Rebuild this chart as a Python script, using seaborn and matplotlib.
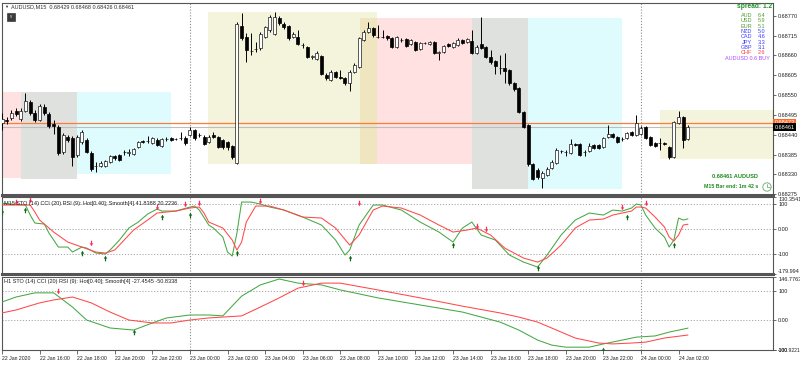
import numpy as np
import pandas as pd
import matplotlib
matplotlib.use("Agg")
import matplotlib.pyplot as plt
import matplotlib.transforms as mtransforms
from matplotlib.path import Path
from matplotlib.lines import Line2D
from matplotlib.patches import Rectangle, Circle
import seaborn as sns

sns.set_theme(style="white")
plt.rcParams["font.family"] = ["Liberation Sans", "DejaVu Sans"]

# ---------------- data ----------------
POINT = 1e-5  # prices below are given in points (0.00001)

bar_open = [68473, 68481, 68486, 68506, 68484, 68506, 68531, 68500, 68481, 68517,
            68498, 68470, 68461, 68392, 68434, 68431, 68384, 68420, 68425, 68389,
            68353, 68353, 68353, 68364, 68381, 68384, 68392, 68389, 68387, 68406,
            68423, 68423, 68417, 68425, 68409, 68428, 68431, 68428, 68431, 68431,
            68439, 68453, 68439, 68434, 68420, 68439, 68434, 68425, 68420, 68409,
            68362, 68741, 68711, 68672, 68678, 68680, 68711, 68730, 68719, 68764,
            68747, 68741, 68711, 68711, 68689, 68683, 68656, 68650, 68658, 68606,
            68592, 68614, 68600, 68597, 68583, 68614, 68628, 68703, 68725, 68736,
            68711, 68711, 68714, 68708, 68683, 68703, 68705, 68692, 68697, 68678,
            68694, 68692, 68697, 68667, 68669, 68692, 68683, 68689, 68703, 68697,
            68700, 68667, 68692, 68683, 68656, 68644, 68625, 68625, 68619, 68583,
            68570, 68503, 68467, 68359, 68342, 68320, 68328, 68348, 68362, 68395,
            68392, 68389, 68414, 68414, 68392, 68395, 68412, 68412, 68406, 68434,
            68442, 68434, 68428, 68431, 68448, 68439, 68442, 68461, 68434, 68417,
            68417, 68417, 68406, 68378, 68473, 68489, 68429]
bar_close = [68484, 68478, 68500, 68498, 68506, 68534, 68500, 68481, 68520, 68500,
             68464, 68464, 68389, 68439, 68425, 68378, 68434, 68448, 68392, 68345,
             68354, 68362, 68367, 68381, 68376, 68370, 68393, 68392, 68400, 68420,
             68420, 68424, 68431, 68412, 68428, 68429, 68425, 68429, 68432, 68417,
             68453, 68431, 68440, 68414, 68434, 68434, 68406, 68406, 68406, 68378,
             68747, 68708, 68675, 68673, 68679, 68719, 68739, 68766, 68766, 68750,
             68739, 68708, 68719, 68692, 68690, 68656, 68657, 68667, 68608, 68597,
             68614, 68600, 68597, 68583, 68614, 68633, 68708, 68725, 68736, 68716,
             68712, 68710, 68708, 68683, 68711, 68704, 68686, 68703, 68675, 68694,
             68695, 68697, 68667, 68668, 68686, 68686, 68694, 68703, 68694, 68705,
             68667, 68683, 68680, 68656, 68642, 68631, 68626, 68617, 68583, 68567,
             68503, 68461, 68359, 68317, 68323, 68334, 68345, 68364, 68398, 68396,
             68393, 68414, 68412, 68384, 68393, 68409, 68403, 68403, 68431, 68442,
             68434, 68420, 68429, 68445, 68439, 68473, 68459, 68431, 68412, 68409,
             68418, 68414, 68378, 68475, 68489, 68425, 68461]
bar_high = [68500, 68489, 68509, 68514, 68514, 68556, 68536, 68509, 68525, 68525,
            68503, 68481, 68467, 68445, 68439, 68437, 68439, 68453, 68431, 68395,
            68364, 68367, 68370, 68384, 68384, 68387, 68398, 68400, 68403, 68423,
            68425, 68437, 68434, 68431, 68431, 68434, 68434, 68431, 68448, 68437,
            68461, 68456, 68445, 68439, 68439, 68448, 68437, 68428, 68423, 68412,
            68753, 68777, 68722, 68722, 68697, 68725, 68741, 68772, 68780, 68769,
            68753, 68744, 68725, 68730, 68694, 68686, 68661, 68672, 68661, 68611,
            68619, 68617, 68619, 68600, 68619, 68639, 68711, 68730, 68753, 68739,
            68744, 68730, 68716, 68711, 68714, 68708, 68708, 68705, 68700, 68697,
            68697, 68700, 68700, 68672, 68689, 68694, 68697, 68708, 68705, 68708,
            68730, 68689, 68766, 68686, 68675, 68647, 68661, 68667, 68622, 68586,
            68572, 68506, 68470, 68362, 68348, 68340, 68351, 68370, 68403, 68398,
            68398, 68428, 68417, 68417, 68398, 68417, 68414, 68414, 68434, 68467,
            68445, 68437, 68434, 68448, 68450, 68495, 68464, 68464, 68437, 68420,
            68431, 68420, 68409, 68478, 68506, 68492, 68468]
bar_low = [68453, 68470, 68481, 68492, 68478, 68503, 68495, 68475, 68478, 68495,
           68459, 68442, 68384, 68387, 68420, 68353, 68378, 68414, 68389, 68340,
           68337, 68351, 68351, 68362, 68370, 68367, 68384, 68381, 68384, 68403,
           68417, 68417, 68414, 68409, 68406, 68423, 68423, 68425, 68425, 68412,
           68437, 68425, 68434, 68412, 68417, 68431, 68403, 68400, 68398, 68373,
           68359, 68703, 68642, 68661, 68669, 68675, 68708, 68725, 68716, 68744,
           68733, 68703, 68708, 68689, 68680, 68653, 68650, 68647, 68606, 68592,
           68589, 68597, 68595, 68578, 68561, 68611, 68625, 68700, 68722, 68711,
           68708, 68708, 68703, 68680, 68680, 68697, 68683, 68689, 68672, 68675,
           68692, 68689, 68664, 68647, 68667, 68683, 68680, 68686, 68692, 68694,
           68664, 68664, 68678, 68653, 68636, 68608, 68608, 68583, 68578, 68561,
           68500, 68459, 68353, 68315, 68317, 68292, 68326, 68345, 68359, 68389,
           68381, 68387, 68409, 68381, 68381, 68392, 68400, 68400, 68403, 68431,
           68431, 68417, 68423, 68428, 68437, 68437, 68439, 68428, 68409, 68406,
           68398, 68412, 68373, 68376, 68470, 68403, 68426]

ask_price = 0.68473
bid_price = 0.68461
price_ticks = [0.68770, 0.68715, 0.68660, 0.68605, 0.68550, 0.68495, 0.68440, 0.68385, 0.68330, 0.68275]

tick_bars = [0, 8, 16, 24, 32, 40, 48, 56, 64, 72, 80, 88, 96, 104, 112, 120, 128, 136, 144]
tick_labels = ["22 Jan 2020", "22 Jan 16:00", "22 Jan 18:00", "22 Jan 20:00", "22 Jan 22:00",
               "23 Jan 00:00", "23 Jan 02:00", "23 Jan 04:00", "23 Jan 06:00", "23 Jan 08:00",
               "23 Jan 10:00", "23 Jan 12:00", "23 Jan 14:00", "23 Jan 16:00", "23 Jan 18:00",
               "23 Jan 20:00", "23 Jan 22:00", "24 Jan 00:00", "24 Jan 02:00"]
day_separators = [40.1, 136.1]

# session boxes: start bar, end bar, high, low, colour
zone_start = [0.0, 4.13, 16.05, 43.93, 76.1, 79.9, 100.1, 112.05, 140.1]
zone_end = [4.13, 16.05, 36.06, 79.9, 79.9, 100.1, 112.05, 132.06, 164.3]
zone_high = [0.685585, 0.685585, 0.685585, 0.687802, 0.687650, 0.687650, 0.687650, 0.687650, 0.685086]
zone_low = [0.683200, 0.683173, 0.683312, 0.683589, 0.683589, 0.683589, 0.682896, 0.682896, 0.683728]
zone_color = ["#ffe1e1", "#dfe1de", "#defcfd", "#f4f4dc", "#efe6bf", "#ffe1e1", "#dfe1de", "#defcfd", "#f4f4dc"]

# M15 indicator (line vertices: bar index, value)
m15_green_bar = [0, 5, 6, 7, 9, 10, 12, 14, 15, 17, 18, 20, 22, 23, 25, 27, 29, 31, 33, 34,
                 37, 40, 41, 42, 44, 45, 47, 48, 49, 50, 51, 53, 55, 57, 60, 64, 68, 71, 73, 74,
                 76, 79, 81, 85, 89, 93, 96, 98, 100, 102, 105, 108, 111, 114, 116, 119, 122, 125, 128, 130,
                 132, 134, 135, 136, 137, 139, 141, 142, 143, 144, 145, 146]
m15_green_val = [104, 97, 57, 25, 21, -15, -71, -71, -91, -71, -75, -95, -99, -83, -43, 5, 29, 61, 81, 73,
                 73, 89, 93, 77, 17, 5, -31, -91, -107, -15, 109, 109, 101, 89, 77, 49, 17, -43, -103, -83,
                 17, 97, 97, 77, 29, -11, -51, 5, 29, -23, -43, -103, -131, -151, -103, -23, 37, 65, 57, 77,
                 73, 85, 101, 97, 57, 5, -31, -71, -43, 45, 37, 41.8388]
m15_red_bar = [0, 6, 7, 8, 11, 14, 17, 20, 22, 24, 26, 28, 31, 33, 37, 40, 42, 43, 44, 47,
               49, 50, 51, 52, 54, 57, 60, 64, 68, 71, 74, 76, 79, 81, 85, 89, 93, 96, 99, 101,
               104, 107, 111, 114, 116, 119, 122, 125, 128, 130, 132, 134, 135, 136, 137, 139, 141, 142, 143, 144,
               145, 146]
m15_red_val = [97, 97, 69, 37, -11, -51, -71, -91, -95, -83, -43, -3, 37, 65, 73, 85, 89, 65, 29, 5,
               -43, -83, -51, 29, 93, 93, 77, 49, 45, 5, -63, -23, 77, 93, 85, 57, 17, -11, -3, 5,
               -23, -75, -115, -131, -115, -63, 5, 37, 41, 57, 65, 73, 89, 89, 85, 49, 9, -31, -47, -23,
               17, 20.2236]
m15_sell_bar = [3, 6, 19, 33, 39, 42, 55, 76, 101, 103, 132, 137]
m15_sell_val = [109, 117, -55, 89, 101, 105, 113, 105, 13, 1, 89, 105]
m15_buy_bar = [0, 5, 17, 22, 34, 40, 50, 74, 96, 114, 133, 143]
m15_buy_val = [69, 77, -95, -115, 49, 57, -95, -115, -63, -155, 49, -63]

# H1 indicator
h1_green_bar = [0, 3, 7, 11, 15, 18, 23, 28, 32, 35, 40, 44, 47, 51, 55, 59, 63, 68, 72, 80,
                89, 98, 106, 110, 114, 117, 120, 125, 128, 132, 135, 139, 142, 146]
h1_green_val = [61, 78, 92, 92, 44, 0, -27, -34, -10, 7, 17, 17, 14, 81, 119, 139, 125, 119, 102, 75,
                51, 27, -7, -34, -68, -85, -92, -92, -81, -68, -58, -54, -41, -27.4545]
h1_red_bar = [0, 3, 8, 11, 15, 19, 23, 27, 32, 36, 40, 44, 47, 51, 55, 59, 63, 68, 72, 80,
              89, 98, 106, 110, 114, 118, 122, 127, 130, 134, 137, 141, 146]
h1_red_val = [24, 34, 58, 68, 78, 58, 27, 0, -10, -10, 0, 7, 10, 14, 44, 75, 108, 125, 125, 102,
              75, 47, 24, 10, -7, -34, -61, -78, -81, -78, -75, -61, -50.8338]
h1_sell_bar = [12, 64]
h1_sell_val = [98, 125]
h1_buy_bar = [28, 128]
h1_buy_val = [-41, -102]

strength_names = ["AUD", "USD", "EUR", "NZD", "CAD", "JPY", "GBP", "CHF"]
strength_vals = ["6.4", "5.9", "5.1", "5.0", "4.6", "3.3", "3.1", "2.6"]
strength_cols = ["#4f9d2d", "#4f9d2d", "#4f9d2d", "#3b3bff", "#3b3bff", "#3b3bff", "#3b3bff", "#ff3b3b"]

# ---------------- figure ----------------
W, H = 800, 365
fig = plt.figure(figsize=(W / 100, H / 100), dpi=100)
fig.patch.set_facecolor("white")
PX = mtransforms.Affine2D().scale(1 / W, -1 / H).translate(0, 1) + fig.transFigure


def px_axes(x0, y0, x1, y1):
    return fig.add_axes([x0 / W, 1 - y1 / H, (x1 - x0) / W, (y1 - y0) / H])


def ftxt(x, y, s, **kw):
    kw.setdefault("fontsize", 4)
    kw.setdefault("va", "center")
    return fig.text(x, y, s, transform=PX, **kw)


ax = px_axes(2, 3, 773, 195)
ax1 = px_axes(2, 196.7, 773, 274.3)
ax2 = px_axes(2, 276.7, 773, 349.8)
XL = (0.0, 164.1)
SPINE = "#555555"

for a in (ax, ax1, ax2):
    a.set_facecolor("white")
    a.set_xlim(*XL)
    for s in a.spines.values():
        s.set_color(SPINE)
        s.set_linewidth(0.8)
        s.set_visible(True)
    a.yaxis.tick_right()
    a.tick_params(axis="y", which="both", direction="out", length=2.5, width=0.6,
                  color=SPINE, labelsize=4, pad=1.2, labelcolor="#202020", right=True, left=False)
    for d in day_separators:
        a.axvline(d, color="#8c8c8c", lw=0.8, ls=(0, (1.0, 1.6)), zorder=1)
ax.spines["bottom"].set_linewidth(2.2)
ax1.spines["bottom"].set_linewidth(2.2)

# ---- main price chart ----
ax.set_ylim(0.68273, 0.688052)
for s0, s1, hi, lo, c in zip(zone_start, zone_end, zone_high, zone_low, zone_color):
    ax.add_patch(Rectangle((s0, lo), s1 - s0, hi - lo, facecolor=c, edgecolor="none", zorder=0))

df = pd.DataFrame({"bar": np.arange(len(bar_open)),
                   "open": np.array(bar_open) * POINT, "close": np.array(bar_close) * POINT,
                   "high": np.array(bar_high) * POINT, "low": np.array(bar_low) * POINT})
df["bottom"] = df[["open", "close"]].min(axis=1)
df["body"] = (df["close"] - df["open"]).abs()
up = df["close"] >= df["open"]

ax.axhline(ask_price, color="#ff7a3d", lw=0.9, zorder=2)
ax.axhline(bid_price, color="#bdbdbd", lw=0.8, zorder=2)
ax.vlines(df["bar"], df["low"], df["high"], color="#000000", lw=0.7, zorder=3)
ax.bar(df["bar"][up], df["body"][up], bottom=df["bottom"][up], width=0.64,
       facecolor="white", edgecolor="#1a1a1a", linewidth=0.5, zorder=4)
ax.bar(df["bar"][~up], df["body"][~up], bottom=df["bottom"][~up], width=0.64,
       facecolor="black", edgecolor="black", linewidth=0.5, zorder=4)

ax.set_yticks(price_ticks)
ax.set_yticklabels([f"{p:.5f}" for p in price_ticks])
ax.set_xticks([])
blend = mtransforms.blended_transform_factory(ax.transAxes, ax.transData)
ax.text(1.0018, ask_price, f"{ask_price:.5f}", transform=blend, ha="left", va="center",
        fontsize=4, color="white", clip_on=False, zorder=10,
        bbox=dict(boxstyle="square,pad=0.28", fc="#ff6a2a", ec="none"))
ax.text(1.0018, bid_price, f"{bid_price:.5f}", transform=blend, ha="left", va="center",
        fontsize=4, color="white", clip_on=False, zorder=11,
        bbox=dict(boxstyle="square,pad=0.28", fc="#000000", ec="none"))

# ---- indicator arrows ----
dv = [(-0.22, 1.0), (0.22, 1.0), (0.22, 0.05), (0.62, 0.05), (0.0, -1.0), (-0.62, 0.05), (-0.22, 0.05), (-0.22, 1.0)]
codes = [Path.MOVETO] + [Path.LINETO] * 6 + [Path.CLOSEPOLY]
DOWN = Path(dv, codes)
UP = Path([(x, -y) for x, y in dv], codes)
RED_ARROW = "#ff2d5a"
GREEN_ARROW = "#0d6b12"

# ---- M15 indicator ----
ax1.set_ylim(-179.994, 130.3541)
for lvl in (100, 0, -100):
    ax1.axhline(lvl, color="#a5a5a5", lw=0.7, ls=(0, (1.2, 1.8)), zorder=1)
sns.lineplot(x=m15_green_bar, y=m15_green_val, ax=ax1, color="#45a845", lw=0.75, zorder=3)
sns.lineplot(x=m15_red_bar, y=m15_red_val, ax=ax1, color="#ff4848", lw=0.75, zorder=3)
ax1.scatter(m15_sell_bar, m15_sell_val, marker=DOWN, s=16, color=RED_ARROW, lw=0, zorder=5)
ax1.scatter(m15_buy_bar, m15_buy_val, marker=UP, s=16, color=GREEN_ARROW, lw=0, zorder=5)
ax1.set_yticks([130.3541, 100, 0, -100, -179.994])
ax1.set_yticklabels(["130.3541", "100", "0.00", "-100", "-179.994"])
lbl = ax1.get_yticklabels()
lbl[0].set_va("top")
lbl[-1].set_va("bottom")
ax1.set_xticks([])
ax1.set_xlabel("")
ax1.set_ylabel("")

# ---- H1 indicator ----
ax2.set_ylim(-100.9221, 146.7763)
for lvl in (100, 0, -100):
    ax2.axhline(lvl, color="#a5a5a5", lw=0.7, ls=(0, (1.2, 1.8)), zorder=1)
sns.lineplot(x=h1_green_bar, y=h1_green_val, ax=ax2, color="#45a845", lw=0.75, zorder=3)
sns.lineplot(x=h1_red_bar, y=h1_red_val, ax=ax2, color="#ff4848", lw=0.75, zorder=3)
ax2.scatter(h1_sell_bar, h1_sell_val, marker=DOWN, s=16, color=RED_ARROW, lw=0, zorder=5)
ax2.scatter(h1_buy_bar, h1_buy_val, marker=UP, s=16, color=GREEN_ARROW, lw=0, zorder=5)
ax2.set_yticks([146.7763, 100, 0, -100, -100.9221])
ax2.set_yticklabels(["146.7763", "100", "0.00", "-100", "-100.9221"])
lbl = ax2.get_yticklabels()
lbl[0].set_va("top")
lbl[-1].set_fontsize(3.6)
lbl[-2].set_fontsize(3.6)
ax2.set_ylabel("")
ax2.set_xticks(tick_bars)
ax2.set_xticklabels(tick_labels, ha="left")
ax2.tick_params(axis="x", direction="out", length=3, width=0.6, color=SPINE,
                labelsize=3.7, pad=1.5, labelcolor="#202020", bottom=True)
ax2.set_xlabel("")
for a in (ax, ax1, ax2):
    a.set_xlim(*XL)

# ---- overlay texts ----
ftxt(4, 6.5, "\u25BC", fontsize=3, color="#303030")
ftxt(11, 6.5, "AUDUSD,M15  0.68429 0.68468 0.68426 0.68461", color="#303030")
fig.add_artist(Rectangle((7, 13), 8, 8, transform=PX, facecolor="#3b3b3b", edgecolor="#222222", lw=0.4))
ftxt(11, 16.8, "v", fontsize=3.3, color="#e0e0e0", ha="center")

ftxt(772, 6.5, "spread: 1.2", ha="right", fontsize=4.8, fontweight="bold", color="#1f8f2a")
for k, (nm, vl, c) in enumerate(zip(strength_names, strength_vals, strength_cols)):
    yy = 15.3 + k * 5.35
    ftxt(752, yy, nm, ha="right", color=c)
    ftxt(757.5, yy, vl, ha="left", color=c)
ftxt(770, 58, "AUDUSD 0.6 BUY", ha="right", color="#a94cff")

ftxt(758, 176, "0.68461 AUDUSD", ha="right", fontsize=4.1, fontweight="bold", color="#1f8a1f")
ftxt(758, 186.5, "M15 Bar end: 1m 42 s", ha="right", fontsize=3.8, fontweight="bold", color="#1f8a1f")
fig.add_artist(Circle((767, 187), 4.2, transform=PX, facecolor="white", edgecolor="#7fae7f", lw=0.7))
fig.add_artist(Line2D([767, 767, 769.5], [184, 187, 187], transform=PX, color="#7fae7f", lw=0.6))

ftxt(4, 203.5, "M15 STO (14) CCI (20) RSI (9): Hot[0.40]; Smooth[4] 41.8388 20.2236", color="#202020")
ftxt(4, 281, "H1 STO (14) CCI (20) RSI (9): Hot[0.40]; Smooth[4] -27.4545 -50.8338", color="#202020")

fig.savefig("out.png", dpi=100, facecolor="white")
